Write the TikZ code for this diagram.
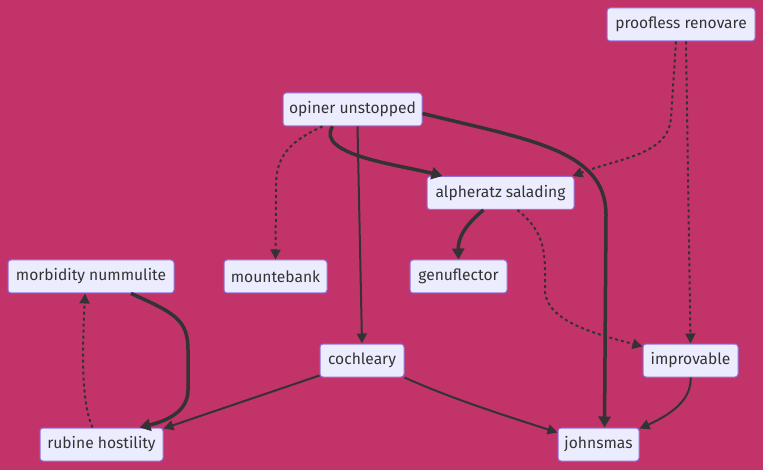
\documentclass[tikz,border=0pt]{standalone}
\usepackage{fontspec}
\setmainfont{Fira Sans}
\usetikzlibrary{arrows.meta}
\definecolor{bgc}{HTML}{C2336A}
\definecolor{nfill}{HTML}{ECECFF}
\definecolor{nborder}{HTML}{9370DB}
\definecolor{ink}{HTML}{333333}
\tikzset{
  box/.style={draw=nborder, fill=nfill, line width=1pt, rounded corners=3pt, minimum height=33pt, inner sep=0pt, text=ink, font=\fontsize{15.6}{18}\selectfont},
  thin/.style={draw=ink, line width=2pt, -{Triangle[length=10pt,width=10pt]}},
  thick/.style={draw=ink, line width=3.5pt, -{Triangle[length=11pt,width=12pt]}},
  dotline/.style={draw=ink, line width=2pt, dash pattern=on 3pt off 3pt, -{Triangle[length=10pt,width=10pt]}}
}
\begin{document}
\begin{tikzpicture}[x=1pt,y=-1pt]
\useasboundingbox (0,0) rectangle (763,470);
\fill[bgc] (0,0) rectangle (763,470);
\node[box, minimum width=148pt] (pr) at (681,24.5) {proofless renovare};
\node[box, minimum width=139pt] (op) at (352.5,109.5) {opiner unstopped};
\node[box, minimum width=147pt] (al) at (500.5,193) {alpheratz salading};
\node[box, minimum width=166pt] (mo) at (91,276.5) {morbidity nummulite};
\node[box, minimum width=103pt] (mb) at (275.5,276.5) {mountebank};
\node[box, minimum width=97pt] (ge) at (458.5,276.5) {genuflector};
\node[box, minimum width=84pt] (co) at (362,360.5) {cochleary};
\node[box, minimum width=95pt] (im) at (690.5,360.5) {improvable};
\node[box, minimum width=123pt] (ru) at (101.5,444.5) {rubine hostility};
\node[box, minimum width=81pt] (jo) at (598.5,444.5) {johnsmas};

\draw[dotline] ([xshift=-30pt]op.south) .. controls (292,140) and (276,155) .. (276,185) -- (mb.north);
\draw[thick] ([xshift=-20pt]op.south) .. controls (315,155) and (400,165) .. ([xshift=16pt]al.north west);
\draw[thin] ([xshift=5pt]op.south) -- (co.north);
\draw[thick] ([yshift=-4pt]op.east) .. controls (530,140) and (606,150) .. (606,215) -- ([xshift=6pt]jo.north);
\draw[dotline] ([xshift=-5pt]pr.south) -- (671,118) .. controls (668,155) and (620,158) .. ([xshift=-2pt]al.north east);
\draw[dotline] ([xshift=5pt]pr.south) -- (im.north);
\draw[thick] ([xshift=-17pt]al.south) .. controls (465,225) and (458,238) .. (ge.north);
\draw[dotline] ([xshift=17pt]al.south) .. controls (540,228) and (545,245) .. (545,272) -- (545,290) .. controls (545,322) and (600,335) .. ([yshift=-3pt]im.north west);
\draw[thick] ([xshift=40pt]mo.south) .. controls (175,313) and (188,320) .. (188,350) -- (188,390) .. controls (188,410) and (170,420) .. ([xshift=38pt]ru.north);
\draw[dotline] ([xshift=-9pt]ru.north) .. controls (80,400) and (83,340) .. ([xshift=-6pt]mo.south);
\draw[thin] ([yshift=2pt]co.south west) -- ([yshift=-1pt]ru.north east);
\draw[thin] (co.south east) .. controls (450,398) and (500,414) .. ([yshift=-5pt]jo.north west);
\draw[thin] (im.south) .. controls (692,400) and (670,415) .. ([yshift=-1pt]jo.north east);
\end{tikzpicture}
\end{document}
